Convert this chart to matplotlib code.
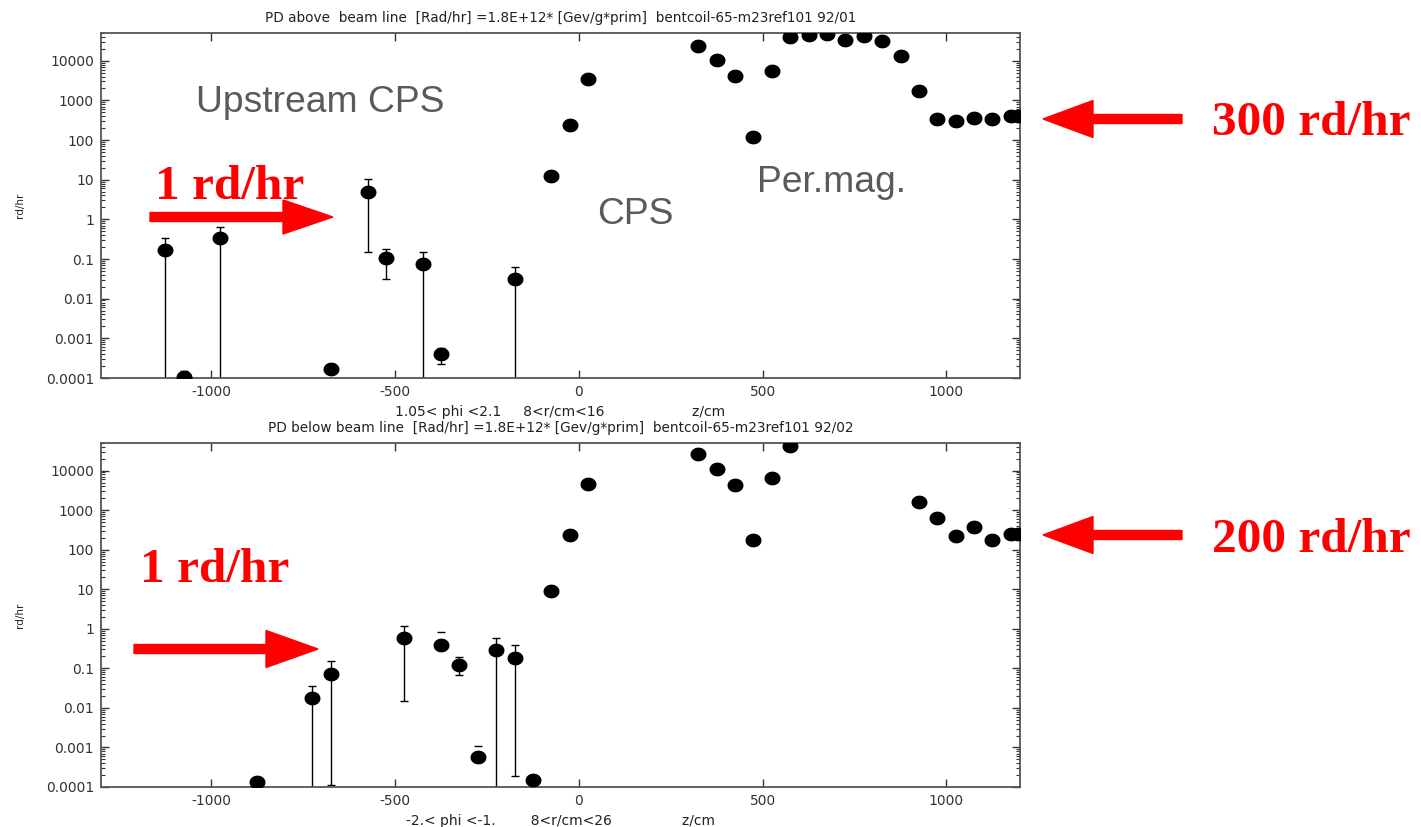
import numpy as np
import matplotlib.pyplot as plt
from matplotlib.patches import Polygon
from matplotlib.path import Path
from matplotlib.ticker import FixedLocator, LogLocator, NullFormatter

# top panel: PD above beam line (lower error bound 1e-6 means bar runs off the axis)
z_up = [-1125, -1075, -975, -675, -575, -525, -425, -375, -175, -75, -25, 25,
        325, 375, 425, 475, 525, 575, 625, 675, 725, 775, 825, 875, 925, 975,
        1025, 1075, 1125, 1175, 1195]
d_up = [0.166, 1.05e-4, 0.34, 1.7e-4, 5.0, 0.107, 0.074, 4.1e-4, 0.032, 12.6, 240, 3460,
        24000, 10400, 4200, 120, 5500, 40000, 44700, 47000, 32700, 42600, 30800, 13400, 1680, 347,
        310, 370, 340, 400, 400]
hi_up = [0.34, 1.5e-4, 0.65, 2.3e-4, 10.2, 0.18, 0.15, 5.7e-4, 0.063, 12.6, 240, 3460,
         24000, 10400, 4200, 120, 5500, 40000, 44700, 47000, 32700, 42600, 30800, 13400, 1680, 347,
         310, 370, 340, 400, 400]
lo_up = [1e-6, 1.05e-4, 1e-6, 1.7e-4, 0.15, 0.032, 1e-6, 2.2e-4, 1e-6, 12.6, 240, 3460,
         24000, 10400, 4200, 120, 5500, 40000, 44700, 47000, 32700, 42600, 30800, 13400, 1680, 347,
         310, 370, 340, 400, 400]

# bottom panel: PD below beam line
z_dn = [-875, -725, -675, -475, -375, -325, -275, -225, -175, -125, -75, -25, 25,
        325, 375, 425, 475, 525, 575, 925, 975, 1025, 1075, 1125, 1175, 1195]
d_dn = [1.35e-4, 0.0178, 0.072, 0.57, 0.39, 0.125, 5.7e-4, 0.29, 0.185, 1.5e-4, 8.9, 234, 4500,
        26900, 10800, 4250, 173, 6400, 41400, 1650, 650, 225, 375, 178, 257, 257]
hi_dn = [1.35e-4, 0.035, 0.15, 1.17, 0.39, 0.19, 5.7e-4, 0.59, 0.38, 1.5e-4, 8.9, 234, 4500,
         26900, 10800, 4250, 173, 6400, 41400, 1650, 650, 225, 375, 178, 257, 257]
lo_dn = [1.35e-4, 1e-6, 1.1e-4, 0.015, 0.39, 0.067, 5.7e-4, 1e-6, 1.95e-4, 1.5e-4, 8.9, 234, 4500,
         26900, 10800, 4250, 173, 6400, 41400, 1650, 650, 225, 375, 178, 257, 257]
# points showing only an upper cap
cap_z = [-375, -275]
cap_d = [0.39, 5.7e-4]
cap_hi = [0.83, 1.1e-3]

yticks = [1e-4, 1e-3, 1e-2, 1e-1, 1, 10, 100, 1000, 10000]
ytick_labels = ['0.0001', '0.001', '0.01', '0.1', '1', '10', '100', '1000', '10000']
xticks = [-1000, -500, 0, 500, 1000]

titles = ['PD above  beam line  [Rad/hr] =1.8E+12* [Gev/g*prim]  bentcoil-65-m23ref101 92/01',
          'PD below beam line  [Rad/hr] =1.8E+12* [Gev/g*prim]  bentcoil-65-m23ref101 92/02']
xlabels = ['1.05< phi <2.1     8<r/cm<16                    z/cm',
           '-2.< phi <-1.        8<r/cm<26                z/cm']

W, H = 1421, 827
fig = plt.figure(figsize=(W / 100, H / 100), dpi=100)
ax1 = fig.add_axes([101 / W, 1 - 378 / H, 919 / W, 345 / H])
ax2 = fig.add_axes([101 / W, 1 - 787 / H, 919 / W, 344 / H])

t = np.linspace(0, 2 * np.pi, 40)
ellipse = Path(np.column_stack([np.cos(t), 0.85 * np.sin(t)]), closed=True)


def panel(ax, z, d, hi, lo, title, xlabel):
    d = np.array(d)
    yerr = [d - np.array(lo), np.array(hi) - d]
    ax.errorbar(z, d, yerr=yerr, fmt='none', ecolor='black', elinewidth=1,
                capsize=3, capthick=1)
    ax.plot(z, d, linestyle='none', marker=ellipse, markersize=10.5,
            color='black', zorder=3)
    ax.set_yscale('log')
    ax.set_xlim(-1300, 1200)
    ax.set_ylim(1e-4, 5e4)
    ax.yaxis.set_major_locator(FixedLocator(yticks))
    ax.set_yticklabels(ytick_labels)
    ax.yaxis.set_minor_locator(LogLocator(base=10, subs=np.arange(2, 10)))
    ax.yaxis.set_minor_formatter(NullFormatter())
    ax.set_xticks(xticks)
    ax.set_xticklabels([str(v) for v in xticks])
    ax.tick_params(direction='in', top=True, right=True, labelsize=10,
                   colors='#333333', length=6, width=1, pad=5)
    ax.tick_params(which='minor', direction='in', right=True, length=3, width=0.8,
                   colors='#333333')
    for s in ax.spines.values():
        s.set_color('#555555')
        s.set_linewidth(1.3)
    ax.set_title(title, fontsize=9.8, pad=8, color='#222222')
    ax.set_xlabel(xlabel, fontsize=10, color='#222222', labelpad=4)
    ax.set_ylabel('rd/hr', fontsize=7.5, color='#222222')
    ax.yaxis.set_label_coords(-0.083, 0.5)


panel(ax1, z_up, d_up, hi_up, lo_up, titles[0], xlabels[0])
panel(ax2, z_dn, d_dn, hi_dn, lo_dn, titles[1], xlabels[1])
cap_d = np.array(cap_d)
ax2.errorbar(cap_z, cap_d, yerr=[np.zeros(len(cap_d)), np.array(cap_hi) - cap_d],
             fmt='none', ecolor='black', elinewidth=0, capsize=3, capthick=1)


def px(x, y):
    return (x / W, 1 - y / H)


def arrow(x0, x1, y, shaft=9, head_len=50, head_h=36):
    # tail at x0, tip at x1 (pixel coords, y from top)
    sgn = 1 if x1 > x0 else -1
    xb = x1 - sgn * head_len
    pts = [(x0, y - shaft / 2), (xb, y - shaft / 2), (xb, y - head_h / 2), (x1, y),
           (xb, y + head_h / 2), (xb, y + shaft / 2), (x0, y + shaft / 2)]
    fig.patches.append(Polygon([px(a, b) for a, b in pts], closed=True,
                               transform=fig.transFigure, color='#ff0000'))


gray = '#5a5a5a'
fig.text(*px(196, 103), 'Upstream CPS', fontsize=26.8, color=gray,
         family='Liberation Sans', va='center', ha='left')
fig.text(*px(597, 215), 'CPS', fontsize=26.8, color=gray,
         family='Liberation Sans', va='center', ha='left')
fig.text(*px(757, 183), 'Per.mag.', fontsize=26.8, color=gray,
         family='Liberation Sans', va='center', ha='left')

red = dict(fontsize=35.5, color='#ff0000', family='Liberation Serif',
           fontweight='bold', va='center', ha='left')
fig.text(*px(155, 187), '1 rd/hr', **red)
fig.text(*px(140, 570), '1 rd/hr', **red)
fig.text(*px(1212, 123), '300 rd/hr', **red)
fig.text(*px(1212, 540), '200 rd/hr', **red)

arrow(150, 333, 217, head_h=34)
arrow(134, 318, 649, head_len=52, head_h=37)
arrow(1182, 1043, 119, head_h=37)
arrow(1182, 1043, 535, head_h=37)

fig.savefig('out.png', dpi=100)
